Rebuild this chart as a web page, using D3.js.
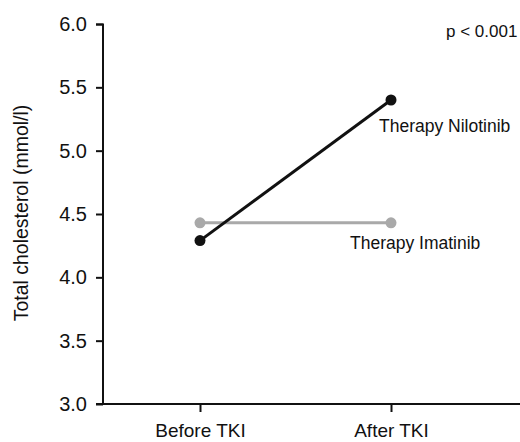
<!DOCTYPE html>
<html>
<head>
<meta charset="utf-8">
<script src="https://cdn.jsdelivr.net/npm/d3@7"></script>
<style>
  body { margin: 0; background: #fff; }
  text { font-family: "Liberation Sans", Arial, sans-serif; fill: #111; }
</style>
</head>
<body>
<div class="chart"></div>
<script>
var margin = { top: 24, right: 0, bottom: 38, left: 103 };
var width = 520 - margin.left - margin.right,
  height = 442 - margin.top - margin.bottom;

// data
const timepoints = ["Before TKI", "After TKI"];
const nilotinib = [4.29, 5.40];
const imatinib = [4.43, 4.43];
const yTicks = [3.0, 3.5, 4.0, 4.5, 5.0, 5.5, 6.0];
const seriesNames = ["Therapy Nilotinib", "Therapy Imatinib"];
const pLabel = "p < 0.001";

const svg = d3.select(".chart").append("svg")
  .attr("width", width + margin.left + margin.right)
  .attr("height", height + margin.top + margin.bottom)
  .append("g")
  .attr("transform", "translate(" + margin.left + "," + margin.top + ")");

var x = d3.scalePoint()
  .domain(timepoints)
  .range([97, 288]);

var y = d3.scaleLinear()
  .domain([3, 6])
  .range([height, 0]);

// y axis
var yAxis = svg.append("g")
  .call(d3.axisLeft(y).tickValues(yTicks).tickFormat(d3.format(".1f")).tickSize(7).tickPadding(9));
yAxis.selectAll("text").style("font-size", "20px");
yAxis.selectAll("line, path").attr("stroke", "#111").attr("stroke-width", 2);
yAxis.select(".domain").attr("d", "M-7,0.5H0V" + height + "H-7");

// x axis
var xAxis = svg.append("g")
  .attr("transform", "translate(0," + height + ")")
  .call(d3.axisBottom(x).tickSize(8).tickPadding(12));
xAxis.selectAll("text").style("font-size", "19px");
xAxis.selectAll("line").attr("stroke", "#111").attr("stroke-width", 2);
xAxis.select(".domain").attr("d", "M0,0H" + width).attr("stroke", "#111").attr("stroke-width", 2);

// axis title
svg.append("text")
  .attr("transform", "translate(" + (-75) + "," + (height / 2 - 1) + ") rotate(-90)")
  .attr("text-anchor", "middle")
  .style("font-size", "19.5px")
  .text("Total cholesterol (mmol/l)");

var series = [
  { name: seriesNames[1], values: imatinib, color: "#a9a9a9" },
  { name: seriesNames[0], values: nilotinib, color: "#111111" }
];

var line = d3.line()
  .x(function (d, i) { return x(timepoints[i]); })
  .y(function (d) { return y(d); });

series.forEach(function (s) {
  svg.append("path")
    .attr("d", line(s.values))
    .attr("fill", "none")
    .attr("stroke", s.color)
    .attr("stroke-width", 3);
  svg.selectAll(null).data(s.values)
    .enter().append("circle")
    .attr("cx", function (d, i) { return x(timepoints[i]); })
    .attr("cy", function (d) { return y(d); })
    .attr("r", 5.5)
    .attr("fill", s.color);
});

// series labels
svg.append("text")
  .attr("x", x(timepoints[1]) - 12)
  .attr("y", y(nilotinib[1]) + 32)
  .style("font-size", "17.5px")
  .text(seriesNames[0]);

svg.append("text")
  .attr("x", x(timepoints[1]) - 41)
  .attr("y", y(imatinib[1]) + 26)
  .style("font-size", "17.5px")
  .text(seriesNames[1]);

svg.append("text")
  .attr("x", 343)
  .attr("y", 13)
  .style("font-size", "17px")
  .text(pLabel);
</script>
</body>
</html>
